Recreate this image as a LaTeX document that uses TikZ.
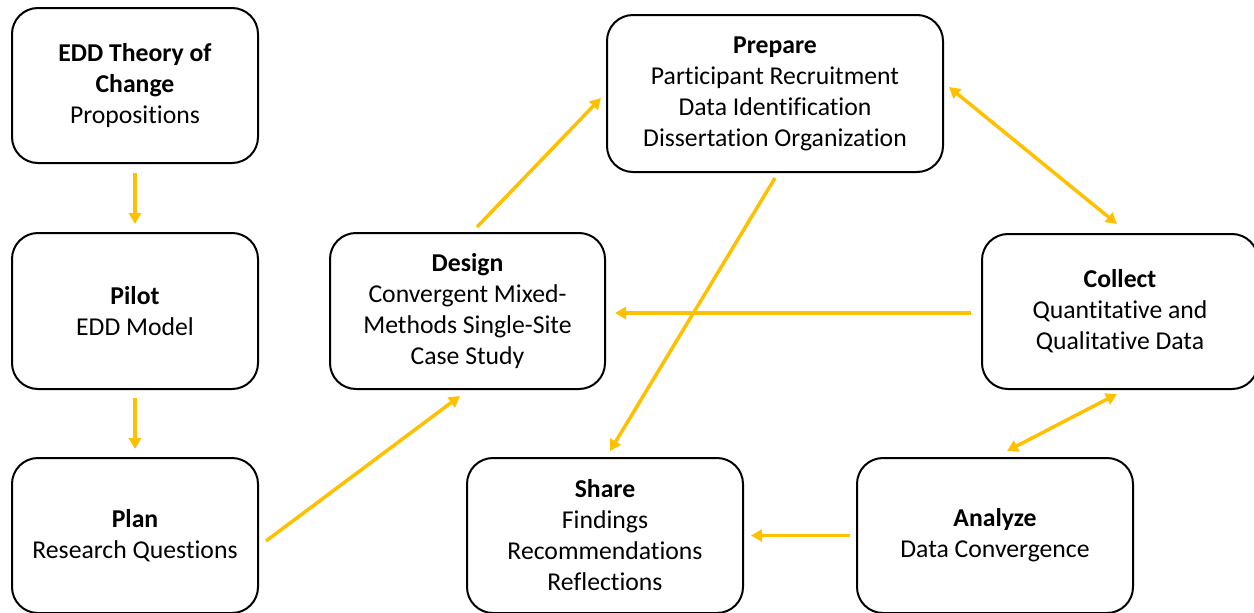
\documentclass[tikz,border=0pt]{standalone}
\usepackage{fontspec}
\setmainfont[Ligatures=NoCommon]{Carlito}
\usetikzlibrary{arrows.meta,calc}
\definecolor{arrowyellow}{HTML}{FFC000}
\begin{document}
\begin{tikzpicture}[x=1pt,y=-1pt,
  box/.style={draw=black,line width=2pt,rounded corners=26pt,align=center,
    inner sep=0pt,font=\fontsize{25.7}{31}\selectfont,
    execute at begin node={\vspace*{4pt}}},
  conn/.style={draw=arrowyellow,line width=3.5pt,-{Triangle[length=11pt,width=12pt]}},
  bconn/.style={draw=arrowyellow,line width=3.5pt,{Triangle[length=11pt,width=12pt]}-{Triangle[length=11pt,width=12pt]}}]
\useasboundingbox (0,0) rectangle (1254,613);
\node[box,minimum width=246pt,minimum height=155pt] (edd) at (135,85.5) {\textbf{EDD Theory of}\\\textbf{Change}\\Propositions};
\node[box,minimum width=246pt,minimum height=156pt] (pilot) at (135,311) {\textbf{Pilot}\\EDD Model};
\node[box,minimum width=246pt,minimum height=155pt] (plan) at (135,535.5) {\textbf{Plan}\\Research Questions};
\node[box,minimum width=275pt,minimum height=156pt] (design) at (467.5,311) {\textbf{Design}\\Convergent Mixed-\\Methods Single-Site\\Case Study};
\node[box,minimum width=336pt,minimum height=157pt] (prepare) at (775,93.5) {\textbf{Prepare}\\Participant Recruitment\\Data Identification\\Dissertation Organization};
\node[box,minimum width=276pt,minimum height=155pt] (collect) at (1120,311.5) {\textbf{Collect}\\Quantitative and\\Qualitative Data};
\node[box,minimum width=276pt,minimum height=155pt] (share) at (605,535.5) {\textbf{Share}\\Findings\\Recommendations\\Reflections};
\node[box,minimum width=276pt,minimum height=155pt] (analyze) at (995,535.5) {\textbf{Analyze}\\Data Convergence};
\draw[conn] ($(edd.south)+(0,9)$) -- ($(pilot.north)+(0,-8)$);
\draw[conn] ($(pilot.south)+(0,8)$) -- ($(plan.north)+(0,-8)$);
\draw[conn] ($(plan.east)+(7,5.5)$) -- ($(design.south)+(-7.5,6)$);
\draw[conn] ($(design.north)+(9.5,-5)$) -- ($(prepare.west)+(-5,4.5)$);
\draw[bconn] ($(prepare.east)+(5,-6.5)$) -- ($(collect.north)+(-3,-9)$);
\draw[conn] ($(collect.west)+(-10,1.5)$) -- ($(design.east)+(9,2)$);
\draw[conn] ($(prepare.south)+(0,5)$) -- ($(share.north)+(5,-6)$);
\draw[bconn] ($(collect.south)+(-3,4)$) -- ($(analyze.north)+(12,-6)$);
\draw[conn] ($(analyze.west)+(-6,0)$) -- ($(share.east)+(7,0)$);
\end{tikzpicture}
\end{document}
